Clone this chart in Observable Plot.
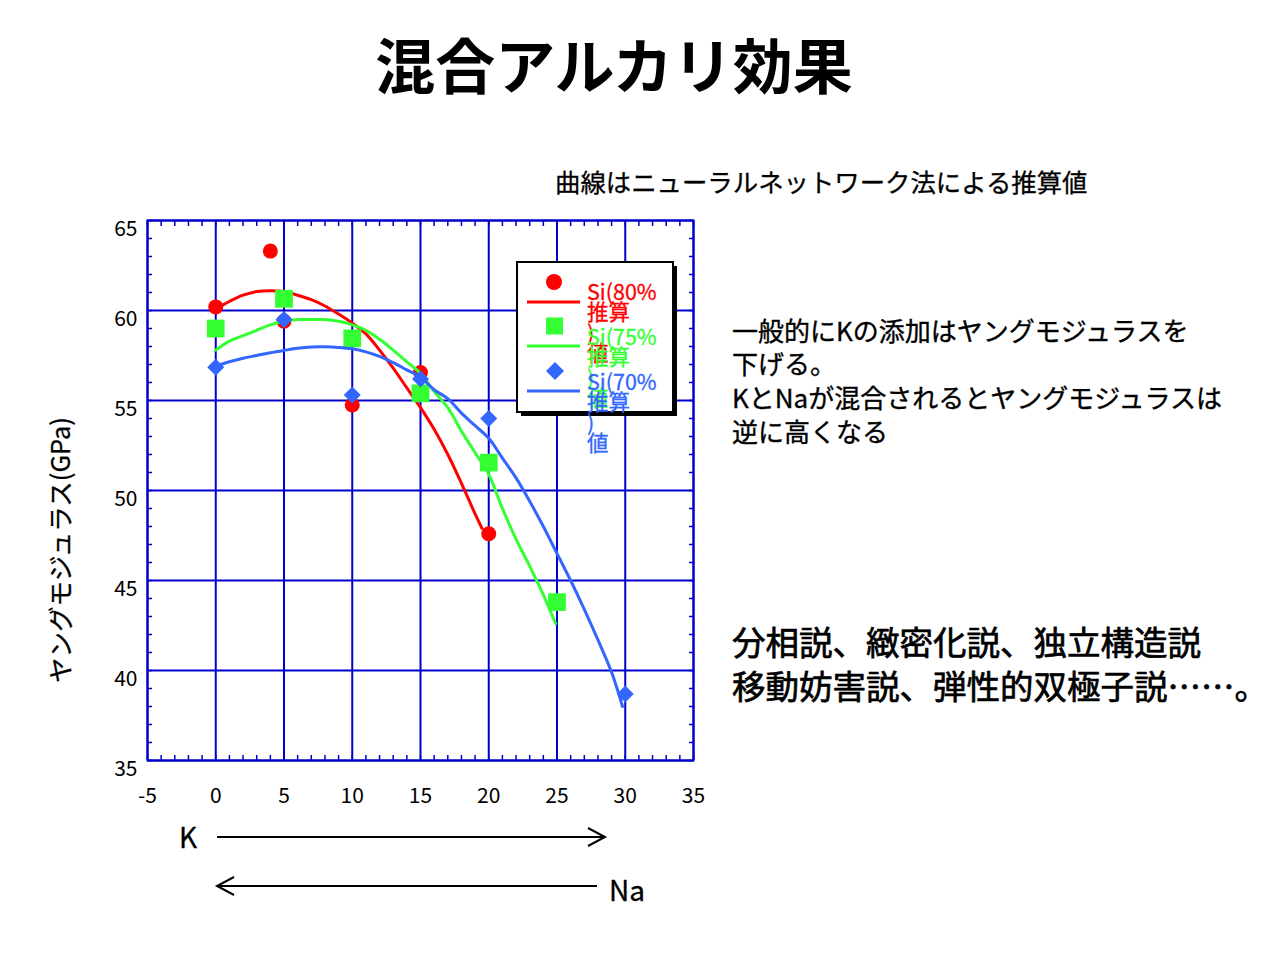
<!DOCTYPE html>
<html><head><meta charset="utf-8">
<script src="https://cdn.jsdelivr.net/npm/d3@7"></script>
<script src="https://cdn.jsdelivr.net/npm/@observablehq/plot@0.6"></script>
<style>
body{margin:0;background:#fff;}
#wrap{position:relative;width:1280px;height:960px;font-family:"Noto Sans CJK JP",sans-serif;}
#wrap > svg{position:absolute;left:0;top:0;}
</style></head><body><div id="wrap"></div>
<script>
// ---- tick values ----
const xTicks = [-5, 0, 5, 10, 15, 20, 25, 30, 35];
const yTicks = [35, 40, 45, 50, 55, 60, 65];
const xMinor = d3.range(-5, 36, 1);
const yMinor = d3.range(35, 66, 1);

// ---- series labels & colours ----
const seriesLines = [["Si(80%", "推算", ")", "値"], ["Si(75%", "推算", ")", "値"], ["Si(70%", "推算", ")", "値"]];
const seriesColors = ["#ff0000", "#33ff33", "#3366ff"];

// ---- measured values (K mol%, Young's modulus GPa) ----
const k80 = [0, 4, 5, 10, 15, 20];
const e80 = [60.2, 63.3, 59.4, 54.75, 56.55, 47.6];
const k75 = [0, 5, 10, 15, 20, 25];
const e75 = [59.0, 60.65, 58.45, 55.4, 51.55, 43.8];
const k70 = [0, 5, 10, 15, 20, 30];
const e70 = [56.85, 59.5, 55.3, 56.2, 54.0, 38.7];

// ---- neural-network estimate curves ----
const c80x = [0.5, 1, 2, 3, 4, 5, 6, 7, 8, 9, 10, 11, 12, 13, 14, 15, 16, 17, 18, 19, 19.5];
const c80y = [60.3, 60.5, 60.85, 61.05, 61.1, 61.05, 60.85, 60.6, 60.25, 59.8, 59.3, 58.7, 57.8, 56.8, 55.7, 54.6, 53.4, 52.0, 50.4, 48.7, 47.9];
const c75x = [0, 1, 2, 3, 4, 5, 6, 7, 8, 9, 10, 11, 12, 13, 14, 15, 16, 17, 18, 19, 20, 21, 22, 23, 24, 24.9];
const c75y = [57.8, 58.3, 58.6, 58.9, 59.2, 59.4, 59.5, 59.5, 59.5, 59.4, 59.2, 58.9, 58.4, 57.8, 57.15, 56.5, 55.5, 54.6, 53.3, 52.1, 50.9, 49.0, 47.3, 45.8, 44.2, 42.6];
const c70x = [0, 1, 2, 3, 4, 5, 6, 7, 8, 9, 10, 11, 12, 13, 14, 15, 16, 17, 18, 19, 20, 21, 22, 23, 24, 25, 26, 27, 28, 29, 29.8];
const c70y = [56.9, 57.15, 57.35, 57.5, 57.65, 57.78, 57.9, 57.97, 57.98, 57.95, 57.87, 57.7, 57.45, 57.1, 56.7, 56.3, 55.6, 55.1, 54.3, 53.6, 52.9, 51.8, 50.7, 49.4, 48.0, 46.5, 45.0, 43.4, 41.7, 39.9, 38.0];

const pts = (xs, ys) => xs.map((x, i) => ({x, y: ys[i]}));
const diamond = {draw(ctx, size) { const h = Math.sqrt(size / 2); ctx.moveTo(0, -h); ctx.lineTo(h, 0); ctx.lineTo(0, h); ctx.lineTo(-h, 0); ctx.closePath(); }};
const gridBlue = "#0000cc";
const FONT = "'Noto Sans CJK JP', sans-serif";

const chart = Plot.plot({
  width: 1280, height: 960,
  marginLeft: 147, marginRight: 587, marginTop: 220, marginBottom: 200,
  x: {domain: [-5, 35]},
  y: {domain: [35, 65]},
  style: {fontFamily: FONT, background: "transparent", color: "#000"},
  marks: [
    Plot.gridX(xTicks, {stroke: gridBlue, strokeOpacity: 1, strokeWidth: 2}),
    Plot.gridY(yTicks, {stroke: gridBlue, strokeOpacity: 1, strokeWidth: 2}),
    Plot.axisX(xMinor, {anchor: "bottom", tickSize: 5, dy: -5, tickFormat: () => "", label: null, stroke: gridBlue, strokeWidth: 1.5}),
    Plot.axisX(xMinor, {anchor: "top", tickSize: 5, dy: 5, tickFormat: () => "", label: null, stroke: gridBlue, strokeWidth: 1.5}),
    Plot.axisY(yMinor, {anchor: "left", tickSize: 5, dx: 5, tickFormat: () => "", label: null, stroke: gridBlue, strokeWidth: 1.5}),
    Plot.axisY(yMinor, {anchor: "right", tickSize: 5, dx: -5, tickFormat: () => "", label: null, stroke: gridBlue, strokeWidth: 1.5}),
    Plot.axisX(xTicks, {anchor: "bottom", tickSize: 0, tickPadding: 28, fontSize: 21, label: null, tickFormat: d => String(d)}),
    Plot.axisY(yTicks, {anchor: "left", tickSize: 0, tickPadding: 10, dy: 9, fontSize: 21, label: null, tickFormat: d => String(d)}),
    Plot.frame({stroke: gridBlue, strokeWidth: 2}),
    Plot.line(pts(c80x, c80y), {x: "x", y: "y", stroke: seriesColors[0], strokeWidth: 3, curve: "catmull-rom"}),
    Plot.dot(pts(k80, e80), {x: "x", y: "y", fill: seriesColors[0], r: 7.5, symbol: "circle"}),
    Plot.line(pts(c75x, c75y), {x: "x", y: "y", stroke: seriesColors[1], strokeWidth: 3, curve: "catmull-rom"}),
    Plot.dot(pts(k75, e75), {x: "x", y: "y", fill: seriesColors[1], r: 10, symbol: "square"}),
    Plot.line(pts(c70x, c70y), {x: "x", y: "y", stroke: seriesColors[2], strokeWidth: 3, curve: "catmull-rom"}),
    Plot.dot(pts(k70, e70), {x: "x", y: "y", fill: seriesColors[2], r: 6.8, symbol: diamond})
  ]
});
const wrap = document.getElementById("wrap");
wrap.appendChild(chart);

// ---- annotation overlay ----
const ov = d3.select(wrap).append("svg").attr("width", 1280).attr("height", 960)
  .style("pointer-events", "none").style("font-family", FONT);
const txt = (x, y, s, size, opts = {}) => {
  const t = ov.append("text").attr("x", x).attr("y", y)
    .attr("font-size", size).attr("dominant-baseline", "central")
    .attr("text-anchor", opts.anchor || "start").attr("font-weight", opts.weight || "normal")
    .attr("fill", opts.fill || "#000").text(s);
  if (opts.bold) t.attr("stroke", opts.fill || "#000").attr("stroke-width", opts.bold);
  return t;
};

txt(614, 62, "混合アルカリ効果", 60, {anchor: "middle", weight: "bold"});
txt(555, 181, "曲線はニューラルネットワーク法による推算値", 25.4, {bold: 0.3});
["一般的にKの添加はヤングモジュラスを", "下げる。", "KとNaが混合されるとヤングモジュラスは", "逆に高くなる"]
  .forEach((s, i) => txt(732, 329 + i * 33.7, s, 26, {bold: 0.35}));
["分相説、緻密化説、独立構造説", "移動妨害説、弾性的双極子説……。"]
  .forEach((s, i) => txt(732, 640 + i * 44, s, 33.5, {bold: 0.7}));
ov.append("text").attr("transform", "translate(58,550) rotate(-90)").attr("text-anchor", "middle")
  .attr("dominant-baseline", "central").attr("font-size", 25.5).attr("stroke", "#000").attr("stroke-width", 0.3)
  .text("ヤングモジュラス(GPa)");

// K / Na arrows
txt(188, 836, "K", 28, {anchor: "middle", bold: 0.3});
txt(627, 889, "Na", 28, {anchor: "middle", bold: 0.3});
ov.append("line").attr("x1", 217).attr("x2", 604).attr("y1", 837).attr("y2", 837).attr("stroke", "#000").attr("stroke-width", 2);
ov.append("path").attr("d", "M588,828 L605,837 L588,846").attr("fill", "none").attr("stroke", "#000").attr("stroke-width", 2);
ov.append("line").attr("x1", 218).attr("x2", 597).attr("y1", 886).attr("y2", 886).attr("stroke", "#000").attr("stroke-width", 2);
ov.append("path").attr("d", "M234,877 L217,886 L234,895").attr("fill", "none").attr("stroke", "#000").attr("stroke-width", 2);

// legend
ov.append("rect").attr("x", 521).attr("y", 266).attr("width", 156).attr("height", 150).attr("fill", "#000");
ov.append("rect").attr("x", 517).attr("y", 262).attr("width", 156).attr("height", 150).attr("fill", "#fff").attr("stroke", "#000").attr("stroke-width", 2);
const symY = [282, 326, 371];
const lineY = [302, 346, 391];
ov.append("circle").attr("cx", 554).attr("cy", symY[0]).attr("r", 8).attr("fill", seriesColors[0]);
ov.append("rect").attr("x", 546).attr("y", symY[1] - 8.5).attr("width", 17).attr("height", 17).attr("fill", seriesColors[1]);
ov.append("path").attr("d", `M555,${symY[2] - 9} L564,${symY[2]} L555,${symY[2] + 9} L546,${symY[2]} Z`).attr("fill", seriesColors[2]);
seriesColors.forEach((c, i) => {
  ov.append("line").attr("x1", 527).attr("x2", 580).attr("y1", lineY[i]).attr("y2", lineY[i]).attr("stroke", c).attr("stroke-width", 3);
});
seriesLines.forEach((lines, i) => {
  lines.forEach((s, j) => txt(587, 290 + i * 45 + j * 20.5, s, 21.5, {fill: seriesColors[i], bold: 0.3}));
});
</script></body></html>
